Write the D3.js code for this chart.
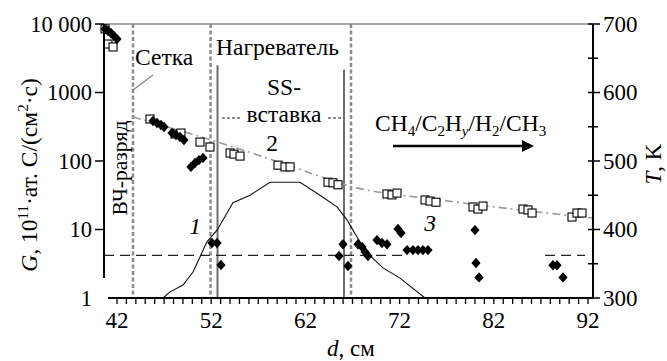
<!DOCTYPE html>
<html><head><meta charset="utf-8">
<script src="https://cdn.jsdelivr.net/npm/d3@7/dist/d3.min.js"></script>
<style>
html,body{margin:0;padding:0;background:#fff;}
</style></head>
<body><svg id="c" width="667" height="361"></svg>
<script>
// ---- data ----
const squaresD = [40.73,41.04,41.58,45.50,48.16,48.79,50.81,51.87,54.0,54.42,55.06,59.09,59.83,60.37,64.40,64.93,65.46,70.66,71.19,71.72,74.70,75.23,75.86,79.79,80.32,80.85,85.10,85.63,86.06,90.30,90.83,91.36];
const squaresG = [8460,5100,4620,410,248,256,189,160,131,126,118,87,82,82,49,48,45,33,32,34,27,26,25,21.3,19.9,22,19.9,19.3,17.4,15.2,17.4,17.4];
const diamondsD = [40.73,41.04,41.36,41.68,42.0,45.82,46.25,46.67,46.99,47.84,48.26,48.69,49.11,49.85,50.28,50.70,51.13,52.08,52.62,53.04,65.57,65.99,66.52,67.58,68.01,68.33,68.65,69.60,70.13,70.66,71.83,72.15,72.79,73.42,73.95,74.48,75.01,80.0,80.11,80.43,88.28,88.71,89.35];
const diamondsG = [8460,7900,7390,6680,6040,384,359,336,314,256,240,224,203,82,93.5,103,111,6.35,6.35,3.03,4.1,6.1,2.93,6.1,5.55,4.7,4.1,7.0,6.35,6.1,10.2,8.9,5.0,5.0,5.0,5.0,5.0,9.8,3.24,2.0,3.0,3.0,2.0];
const curveD = [46.88,47.63,49.01,50.07,50.81,51.55,52.62,54.31,56.12,58.24,61.43,63.55,65.35,66.42,67.48,68.54,70.24,72.04,74.70];
const curveT = [300,309,319,338,360,382,399,439,450,469,469,450,433,414,389,366,344,329,300];
const fitD = [43.70,54.0,60.37,66.73,76.29,84.78,92.53];
const fitG = [439,166,85,43,27,19.3,14.7];
const gridLineD = [43.70,45.82];
const gridLineG = [1087,1800];
const dottedD = [43.70,51.93,66.84];
const solidD = [52.67,66.10];
const solidTopG = [2500,2150];
const levelG = 4.2;
const levelSegs = [[40.62,72.79],[87.44,91.68]];
const gTicks = [1,10,100,1000,10000];
const gTickLabels = ["1","10","100","1000","10 000"];
const tTicks = [300,400,500,600,700];
const tMinor = [350,450,550,650];
const dTicks = [42,52,62,72,82,92];

// ---- scales ----
const FONT = '"Liberation Serif"';
const svg = d3.select("#c");
const x = d3.scaleLinear().domain([40.62,92.53]).range([104,593]);
const yG = d3.scaleLog().domain([1,10000]).range([298,24]);
const yT = d3.scaleLinear().domain([300,700]).range([298,24]);
const T = (sel)=>sel.append("text").style("font-family",FONT).attr("fill","#000");
const FS = 23.5, TS = 22.5, SUB = 15;

// top border
svg.append("line").attr("x1",104).attr("x2",593).attr("y1",24).attr("y2",24)
  .attr("stroke","#8a8a8a").attr("stroke-width",1.5);

// vertical dotted lines
dottedD.forEach(d=>{
  svg.append("line").attr("x1",x(d)).attr("x2",x(d)).attr("y1",24).attr("y2",298)
    .attr("stroke","#8c8c8c").attr("stroke-width",2.5).attr("stroke-dasharray","4,2.5");
});
// vertical solid lines
solidD.forEach((d,i)=>{
  svg.append("line").attr("x1",x(d)).attr("x2",x(d)).attr("y1",yG(solidTopG[i])).attr("y2",298)
    .attr("stroke","#6e6e6e").attr("stroke-width",2);
});

// horizontal dashed level
levelSegs.forEach(s=>{
  svg.append("line").attr("x1",x(s[0])).attr("x2",x(s[1])).attr("y1",yG(levelG)).attr("y2",yG(levelG))
    .attr("stroke","#222").attr("stroke-width",1.3).attr("stroke-dasharray","10,6");
});

// grid label pointer line
svg.append("line").attr("x1",x(gridLineD[0])).attr("y1",yG(gridLineG[0]))
  .attr("x2",x(gridLineD[1])).attr("y2",yG(gridLineG[1]))
  .attr("stroke","#888").attr("stroke-width",1.3);

// fit line (dash-dot)
svg.append("path").datum(fitD.map((d,i)=>[d,fitG[i]]))
  .attr("d",d3.line().x(p=>x(p[0])).y(p=>yG(p[1])).curve(d3.curveMonotoneX))
  .attr("fill","none").attr("stroke","#9a9a9a").attr("stroke-width",1.6)
  .attr("stroke-dasharray","8,4,2,4");

// curve 1
svg.append("path").datum(curveD.map((d,i)=>[d,curveT[i]]))
  .attr("d",d3.line().x(p=>x(p[0])).y(p=>yT(p[1])))
  .attr("fill","none").attr("stroke","#111").attr("stroke-width",1.1);

// squares
svg.append("g").selectAll("rect").data(squaresD.map((d,i)=>[d,squaresG[i]])).join("rect")
  .attr("x",p=>x(p[0])-4).attr("y",p=>yG(p[1])-4).attr("width",8).attr("height",8)
  .attr("fill","#fff").attr("stroke","#000").attr("stroke-width",1.1);

// diamonds
svg.append("g").selectAll("path").data(diamondsD.map((d,i)=>[d,diamondsG[i]])).join("path")
  .attr("d","M0,-5.2L4.6,0L0,5.2L-4.6,0Z")
  .attr("transform",p=>`translate(${x(p[0])},${yG(p[1])})`).attr("fill","#000");

// axes lines
svg.append("line").attr("x1",104).attr("x2",104).attr("y1",24).attr("y2",278).attr("stroke","#000").attr("stroke-width",2);
svg.append("line").attr("x1",108).attr("x2",593).attr("y1",298).attr("y2",298).attr("stroke","#000").attr("stroke-width",2);
svg.append("line").attr("x1",593).attr("x2",593).attr("y1",24).attr("y2",298).attr("stroke","#000").attr("stroke-width",2);

// left ticks & labels
gTicks.forEach((g,i)=>{
  if(g>1) svg.append("line").attr("x1",95).attr("x2",104).attr("y1",yG(g)).attr("y2",yG(g)).attr("stroke","#000").attr("stroke-width",1.5);
  T(svg).attr("x",92).attr("y",yG(g)+7.5).attr("text-anchor","end")
    .attr("font-size",TS).text(gTickLabels[i]);
});
// right ticks & labels
tTicks.forEach(t=>{
  svg.append("line").attr("x1",588).attr("x2",600).attr("y1",yT(t)).attr("y2",yT(t)).attr("stroke","#000").attr("stroke-width",1.5);
  T(svg).attr("x",603).attr("y",yT(t)+7.5).attr("font-size",TS+0.5).text(t);
});
tMinor.forEach(t=>{
  svg.append("line").attr("x1",588).attr("x2",598).attr("y1",yT(t)).attr("y2",yT(t)).attr("stroke","#000").attr("stroke-width",1.5);
});
// bottom ticks
d3.range(41,93).forEach(v=>{
  if(x(v)<108) return;
  svg.append("line").attr("x1",x(v)).attr("x2",x(v)).attr("y1",298).attr("y2",304)
    .attr("stroke","#000").attr("stroke-width",1.3);
});
dTicks.forEach(v=>{
  T(svg).attr("x",x(v)).attr("y",328).attr("text-anchor","middle").attr("font-size",TS+0.5).text(v);
});

// axis titles
const yl = T(svg).attr("transform","translate(37,175) rotate(-90)").attr("text-anchor","middle").attr("font-size",FS);
yl.append("tspan").attr("font-style","italic").text("G");
yl.append("tspan").text(", 10");
yl.append("tspan").attr("font-size",SUB).attr("dy",-9).text("11");
yl.append("tspan").attr("dy",9).text("·ат. C/(см");
yl.append("tspan").attr("font-size",SUB).attr("dy",-9).text("2");
yl.append("tspan").attr("dy",9).text("·с)");

const tl = T(svg).attr("transform","translate(661,164) rotate(-90)").attr("text-anchor","middle").attr("font-size",FS-0.5);
tl.append("tspan").attr("font-style","italic").text("T");
tl.append("tspan").text(", K");

const xl = T(svg).attr("x",351).attr("y",356).attr("text-anchor","middle").attr("font-size",FS-0.5);
xl.append("tspan").attr("font-style","italic").text("d");
xl.append("tspan").text(", см");

// annotations
T(svg).attr("x",135).attr("y",65).attr("font-size",FS).text("Сетка");
T(svg).attr("x",216).attr("y",55).attr("font-size",FS).text("Нагреватель");
T(svg).attr("x",284).attr("y",95).attr("text-anchor","middle").attr("font-size",FS).text("SS-");
T(svg).attr("x",284).attr("y",122).attr("text-anchor","middle").attr("font-size",FS).text("вставка");
[[222,240],[328,343]].forEach(s=>{
  svg.append("line").attr("x1",s[0]).attr("x2",s[1]).attr("y1",118).attr("y2",118)
    .attr("stroke","#223").attr("stroke-width",1.2).attr("stroke-dasharray","3,2");
});
T(svg).attr("x",272).attr("y",151).attr("text-anchor","middle").attr("font-size",FS).text("2");
T(svg).attr("x",195).attr("y",234).attr("text-anchor","middle").attr("font-size",FS).attr("font-style","italic").text("1");
T(svg).attr("x",430).attr("y",231).attr("text-anchor","middle").attr("font-size",FS).attr("font-style","italic").text("3");
T(svg).attr("transform","translate(127,168) rotate(-90)").attr("text-anchor","middle").attr("font-size",21.5).text("ВЧ-разряд");

const ch = T(svg).attr("x",375).attr("y",131).attr("font-size",FS);
ch.append("tspan").text("CH");
ch.append("tspan").attr("font-size",SUB).attr("dy",5).text("4");
ch.append("tspan").attr("dy",-5).text("/C");
ch.append("tspan").attr("font-size",SUB).attr("dy",5).text("2");
ch.append("tspan").attr("dy",-5).text("H");
ch.append("tspan").attr("font-size",SUB).attr("dy",5).attr("font-style","italic").text("y");
ch.append("tspan").attr("dy",-5).text("/H");
ch.append("tspan").attr("font-size",SUB).attr("dy",5).text("2");
ch.append("tspan").attr("dy",-5).text("/CH");
ch.append("tspan").attr("font-size",SUB).attr("dy",5).text("3");

svg.append("line").attr("x1",393).attr("x2",524).attr("y1",146).attr("y2",146).attr("stroke","#000").attr("stroke-width",2.5);
svg.append("path").attr("d","M522,140L534,146L522,152Z").attr("fill","#000");
</script></body></html>
